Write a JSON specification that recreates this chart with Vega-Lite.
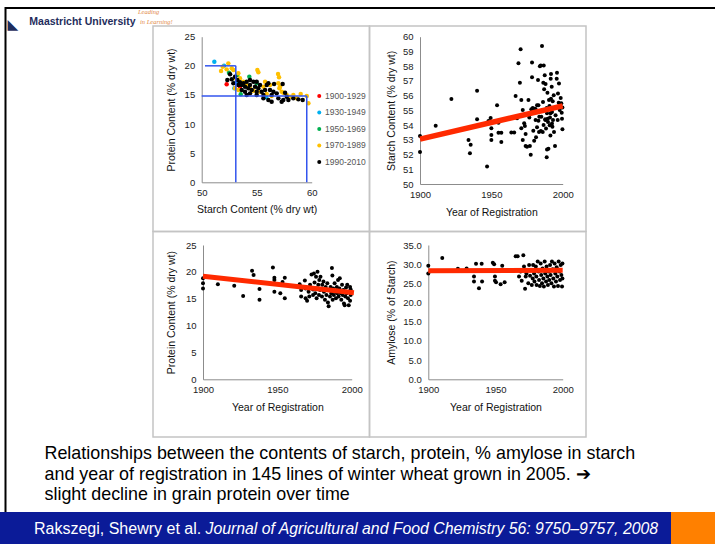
{
  "$schema": "https://vega.github.io/schema/vega-lite/v6.json",
  "width": 715,
  "height": 544,
  "autosize": {"type": "none"},
  "padding": 0,
  "background": "white",
  "config": {
    "view": {"stroke": null},
    "font": "Liberation Sans",
    "axis": {"grid": false, "ticks": false, "labelFont": "Liberation Sans", "labelFontSize": 9.5, "labelColor": "#222222", "labelFlush": false, "labelOverlap": false, "titleFont": "Liberation Sans", "titleFontSize": 10.5, "titleFontWeight": "normal", "titleColor": "#111111", "domainColor": "#8c8c8c", "domainWidth": 1},
    "axisX": {"labelPadding": 5},
    "axisY": {"labelPadding": 7}
  },
  "datasets": {
    "p1": [
      {"starch": 52.27, "protein": 16.82, "period": "1900-1929"},
      {"starch": 53.48, "protein": 16.42, "period": "1900-1929"},
      {"starch": 51.15, "protein": 20.71, "period": "1930-1949"},
      {"starch": 52.03, "protein": 20.02, "period": "1930-1949"},
      {"starch": 53.12, "protein": 17.11, "period": "1930-1949"},
      {"starch": 55.85, "protein": 14.59, "period": "1930-1949"},
      {"starch": 52.97, "protein": 16.13, "period": "1930-1949"},
      {"starch": 52.48, "protein": 18.82, "period": "1950-1969"},
      {"starch": 53.55, "protein": 15.1, "period": "1950-1969"},
      {"starch": 54.33, "protein": 18.14, "period": "1950-1969"},
      {"starch": 53.24, "protein": 18.42, "period": "1950-1969"},
      {"starch": 55.0, "protein": 16.99, "period": "1950-1969"},
      {"starch": 51.76, "protein": 19.11, "period": "1970-1989"},
      {"starch": 51.91, "protein": 19.85, "period": "1970-1989"},
      {"starch": 52.42, "protein": 20.42, "period": "1970-1989"},
      {"starch": 52.73, "protein": 19.57, "period": "1970-1989"},
      {"starch": 53.33, "protein": 18.71, "period": "1970-1989"},
      {"starch": 53.48, "protein": 17.85, "period": "1970-1989"},
      {"starch": 54.09, "protein": 16.7, "period": "1970-1989"},
      {"starch": 55.06, "protein": 19.28, "period": "1970-1989"},
      {"starch": 55.15, "protein": 18.88, "period": "1970-1989"},
      {"starch": 55.76, "protein": 17.28, "period": "1970-1989"},
      {"starch": 56.21, "protein": 16.7, "period": "1970-1989"},
      {"starch": 56.97, "protein": 16.99, "period": "1970-1989"},
      {"starch": 57.12, "protein": 16.42, "period": "1970-1989"},
      {"starch": 57.27, "protein": 15.56, "period": "1970-1989"},
      {"starch": 57.42, "protein": 15.39, "period": "1970-1989"},
      {"starch": 57.73, "protein": 14.99, "period": "1970-1989"},
      {"starch": 58.03, "protein": 14.7, "period": "1970-1989"},
      {"starch": 58.33, "protein": 14.99, "period": "1970-1989"},
      {"starch": 58.64, "protein": 14.42, "period": "1970-1989"},
      {"starch": 59.0, "protein": 15.16, "period": "1970-1989"},
      {"starch": 59.55, "protein": 14.82, "period": "1970-1989"},
      {"starch": 59.7, "protein": 13.56, "period": "1970-1989"},
      {"starch": 56.94, "protein": 18.59, "period": "1970-1989"},
      {"starch": 57.03, "protein": 18.02, "period": "1970-1989"},
      {"starch": 57.06, "protein": 16.13, "period": "1970-1989"},
      {"starch": 52.27, "protein": 19.39, "period": "1970-1989"},
      {"starch": 52.88, "protein": 19.28, "period": "1970-1989"},
      {"starch": 53.03, "protein": 17.85, "period": "1970-1989"},
      {"starch": 53.79, "protein": 17.28, "period": "1970-1989"},
      {"starch": 54.39, "protein": 16.13, "period": "1970-1989"},
      {"starch": 54.7, "protein": 15.73, "period": "1970-1989"},
      {"starch": 55.3, "protein": 15.56, "period": "1970-1989"},
      {"starch": 55.91, "protein": 15.16, "period": "1970-1989"},
      {"starch": 56.36, "protein": 14.82, "period": "1970-1989"},
      {"starch": 53.03, "protein": 16.13, "period": "1970-1989"},
      {"starch": 55.61, "protein": 16.42, "period": "1970-1989"},
      {"starch": 53.33, "protein": 15.85, "period": "1970-1989"},
      {"starch": 52.58, "protein": 18.54, "period": "1990-2010"},
      {"starch": 52.33, "protein": 17.56, "period": "1990-2010"},
      {"starch": 52.73, "protein": 17.68, "period": "1990-2010"},
      {"starch": 53.03, "protein": 18.14, "period": "1990-2010"},
      {"starch": 53.24, "protein": 17.56, "period": "1990-2010"},
      {"starch": 53.48, "protein": 17.16, "period": "1990-2010"},
      {"starch": 53.64, "protein": 16.7, "period": "1990-2010"},
      {"starch": 53.79, "protein": 16.99, "period": "1990-2010"},
      {"starch": 53.94, "protein": 16.42, "period": "1990-2010"},
      {"starch": 54.09, "protein": 17.28, "period": "1990-2010"},
      {"starch": 54.24, "protein": 16.13, "period": "1990-2010"},
      {"starch": 54.39, "protein": 16.7, "period": "1990-2010"},
      {"starch": 54.55, "protein": 15.85, "period": "1990-2010"},
      {"starch": 54.7, "protein": 17.28, "period": "1990-2010"},
      {"starch": 54.85, "protein": 16.42, "period": "1990-2010"},
      {"starch": 55.0, "protein": 15.56, "period": "1990-2010"},
      {"starch": 55.15, "protein": 16.13, "period": "1990-2010"},
      {"starch": 55.3, "protein": 16.7, "period": "1990-2010"},
      {"starch": 55.45, "protein": 15.56, "period": "1990-2010"},
      {"starch": 55.61, "protein": 14.99, "period": "1990-2010"},
      {"starch": 55.76, "protein": 15.85, "period": "1990-2010"},
      {"starch": 55.91, "protein": 16.7, "period": "1990-2010"},
      {"starch": 56.06, "protein": 16.99, "period": "1990-2010"},
      {"starch": 56.21, "protein": 15.85, "period": "1990-2010"},
      {"starch": 56.36, "protein": 14.99, "period": "1990-2010"},
      {"starch": 56.52, "protein": 15.56, "period": "1990-2010"},
      {"starch": 56.58, "protein": 16.88, "period": "1990-2010"},
      {"starch": 56.82, "protein": 15.27, "period": "1990-2010"},
      {"starch": 56.97, "protein": 14.42, "period": "1990-2010"},
      {"starch": 57.27, "protein": 13.84, "period": "1990-2010"},
      {"starch": 57.42, "protein": 14.13, "period": "1990-2010"},
      {"starch": 57.73, "protein": 14.7, "period": "1990-2010"},
      {"starch": 57.88, "protein": 14.13, "period": "1990-2010"},
      {"starch": 57.36, "protein": 16.88, "period": "1990-2010"},
      {"starch": 57.58, "protein": 15.39, "period": "1990-2010"},
      {"starch": 58.33, "protein": 14.42, "period": "1990-2010"},
      {"starch": 58.79, "protein": 14.24, "period": "1990-2010"},
      {"starch": 59.18, "protein": 14.13, "period": "1990-2010"},
      {"starch": 52.88, "protein": 16.99, "period": "1990-2010"},
      {"starch": 53.33, "protein": 16.7, "period": "1990-2010"},
      {"starch": 53.94, "protein": 15.56, "period": "1990-2010"},
      {"starch": 54.39, "protein": 15.27, "period": "1990-2010"},
      {"starch": 55.0, "protein": 14.99, "period": "1990-2010"},
      {"starch": 55.61, "protein": 14.42, "period": "1990-2010"},
      {"starch": 56.06, "protein": 14.13, "period": "1990-2010"},
      {"starch": 56.36, "protein": 13.84, "period": "1990-2010"},
      {"starch": 54.39, "protein": 17.56, "period": "1990-2010"},
      {"starch": 55.0, "protein": 17.28, "period": "1990-2010"},
      {"starch": 53.64, "protein": 15.85, "period": "1990-2010"},
      {"starch": 54.09, "protein": 14.99, "period": "1990-2010"}
    ],
    "p1lines": [
      {"starch": 50.3, "protein": 20, "starch2": 53.1, "protein2": 20},
      {"starch": 53.1, "protein": 20, "starch2": 53.1, "protein2": 0},
      {"starch": 50.0, "protein": 14.8, "starch2": 59.55, "protein2": 14.8},
      {"starch": 59.55, "protein": 14.8, "starch2": 59.55, "protein2": 0}
    ],
    "p2": [
      {"year": 1900, "starch": 53.26}, {"year": 1900, "starch": 52.17}, {"year": 1911, "starch": 53.96}, {"year": 1922, "starch": 55.77},
      {"year": 1934, "starch": 52.99}, {"year": 1935, "starch": 52.08}, {"year": 1935.5, "starch": 52.67}, {"year": 1940, "starch": 56.33},
      {"year": 1940, "starch": 54.39}, {"year": 1947, "starch": 51.18}, {"year": 1948, "starch": 54.28}, {"year": 1949.5, "starch": 54.48},
      {"year": 1950, "starch": 53.78}, {"year": 1950, "starch": 53.33}, {"year": 1950, "starch": 52.99}, {"year": 1954, "starch": 55.34},
      {"year": 1955, "starch": 54.16}, {"year": 1955, "starch": 53.48}, {"year": 1957, "starch": 53.48}, {"year": 1957, "starch": 52.85},
      {"year": 1964, "starch": 53.5}, {"year": 1966, "starch": 53.5}, {"year": 1967, "starch": 55.97}, {"year": 1968, "starch": 54.46},
      {"year": 1969, "starch": 58.19}, {"year": 1970, "starch": 56.88}, {"year": 1970.5, "starch": 59.14}, {"year": 1971, "starch": 55.7},
      {"year": 1971, "starch": 53.78}, {"year": 1972, "starch": 52.99}, {"year": 1972, "starch": 55.02}, {"year": 1973, "starch": 54.12},
      {"year": 1973.5, "starch": 53.94}, {"year": 1974, "starch": 53.39}, {"year": 1974, "starch": 52.58}, {"year": 1975, "starch": 52.53},
      {"year": 1976, "starch": 55.7}, {"year": 1976.6, "starch": 54.52}, {"year": 1977, "starch": 52.58}, {"year": 1977.6, "starch": 51.99},
      {"year": 1978, "starch": 55.07}, {"year": 1978.5, "starch": 58.24}, {"year": 1978.5, "starch": 57.24}, {"year": 1979, "starch": 55.16},
      {"year": 1979.4, "starch": 53.62}, {"year": 1980, "starch": 55.11}, {"year": 1980, "starch": 52.94}, {"year": 1981, "starch": 54.34},
      {"year": 1981.3, "starch": 53.17}, {"year": 1982, "starch": 55.34}, {"year": 1982, "starch": 53.85}, {"year": 1982.7, "starch": 57.06},
      {"year": 1983, "starch": 55.34}, {"year": 1983.4, "starch": 53.53}, {"year": 1983.6, "starch": 54.57}, {"year": 1984, "starch": 58.0},
      {"year": 1984.6, "starch": 58.05}, {"year": 1985, "starch": 54.57}, {"year": 1985.5, "starch": 59.37}, {"year": 1986, "starch": 53.53},
      {"year": 1986.2, "starch": 55.57}, {"year": 1986.4, "starch": 56.88}, {"year": 1986.7, "starch": 58.05}, {"year": 1987, "starch": 56.43},
      {"year": 1987.4, "starch": 57.38}, {"year": 1987.9, "starch": 54.34}, {"year": 1988, "starch": 56.79}, {"year": 1988.3, "starch": 53.76},
      {"year": 1988.8, "starch": 55.16}, {"year": 1988.8, "starch": 51.81}, {"year": 1989, "starch": 52.35}, {"year": 1989.3, "starch": 56.2},
      {"year": 1989.5, "starch": 54.43}, {"year": 1989.7, "starch": 54.21}, {"year": 1990, "starch": 52.4}, {"year": 1990.4, "starch": 55.7},
      {"year": 1990.7, "starch": 55.29}, {"year": 1990.9, "starch": 53.98}, {"year": 1991.1, "starch": 54.52}, {"year": 1991.4, "starch": 53.3},
      {"year": 1991.6, "starch": 57.15}, {"year": 1991.8, "starch": 55.79}, {"year": 1991.8, "starch": 57.47}, {"year": 1992.3, "starch": 56.61},
      {"year": 1992.5, "starch": 54.89}, {"year": 1992.8, "starch": 53.89}, {"year": 1993, "starch": 55.61}, {"year": 1993.2, "starch": 54.34},
      {"year": 1993.7, "starch": 56.02}, {"year": 1993.9, "starch": 53.53}, {"year": 1994.6, "starch": 52.58}, {"year": 1995, "starch": 54.66},
      {"year": 1995.8, "starch": 57.15}, {"year": 1996, "starch": 57.56}, {"year": 1996.5, "starch": 54.34}, {"year": 1996.7, "starch": 56.15},
      {"year": 1997.2, "starch": 55.52}, {"year": 1997.4, "starch": 56.83}, {"year": 1997.9, "starch": 55.02}, {"year": 1998.6, "starch": 55.84},
      {"year": 1999, "starch": 55.48}, {"year": 1999.3, "starch": 54.84}, {"year": 1999.5, "starch": 54.43}, {"year": 1999.8, "starch": 53.71},
      {"year": 1999.8, "starch": 55.2}, {"year": 1979.2, "starch": 55.1}, {"year": 1981, "starch": 55.1}, {"year": 1983, "starch": 54.3},
      {"year": 1984.7, "starch": 53.6}, {"year": 1986.6, "starch": 54.0}, {"year": 1987.7, "starch": 54.4}, {"year": 1989, "starch": 54.8},
      {"year": 1991.5, "starch": 54.8}, {"year": 1992.5, "starch": 54.1}
    ],
    "p2line": [{"year": 1900, "starch": 53.05}, {"year": 2000, "starch": 55.3}],
    "p3": [
      {"year": 1900, "protein": 18.8}, {"year": 1900, "protein": 17.9}, {"year": 1900, "protein": 16.9}, {"year": 1910, "protein": 17.7},
      {"year": 1921, "protein": 17.4}, {"year": 1927, "protein": 15.5}, {"year": 1933, "protein": 20.2}, {"year": 1934, "protein": 19.4},
      {"year": 1938, "protein": 16.8}, {"year": 1938, "protein": 14.8}, {"year": 1947, "protein": 20.8}, {"year": 1948, "protein": 16.3},
      {"year": 1948, "protein": 18.9}, {"year": 1948, "protein": 18.5}, {"year": 1952, "protein": 16.0}, {"year": 1953.5, "protein": 18.1},
      {"year": 1955, "protein": 18.9}, {"year": 1955, "protein": 15.1}, {"year": 1965, "protein": 17.7}, {"year": 1966, "protein": 16.6},
      {"year": 1966, "protein": 15.4}, {"year": 1968.5, "protein": 18.4}, {"year": 1969, "protein": 16.9}, {"year": 1969, "protein": 15.1},
      {"year": 1970, "protein": 14.6}, {"year": 1971, "protein": 16.3}, {"year": 1971.5, "protein": 15.4}, {"year": 1972, "protein": 17.6},
      {"year": 1973, "protein": 19.5}, {"year": 1974, "protein": 16.7}, {"year": 1974, "protein": 15.7}, {"year": 1974.6, "protein": 19.7},
      {"year": 1975, "protein": 18.0}, {"year": 1975.5, "protein": 16.0}, {"year": 1976, "protein": 19.1}, {"year": 1976.4, "protein": 16.9},
      {"year": 1976.4, "protein": 15.1}, {"year": 1977, "protein": 20.0}, {"year": 1977.5, "protein": 17.6}, {"year": 1978, "protein": 15.7},
      {"year": 1978.2, "protein": 18.5}, {"year": 1978.7, "protein": 16.6}, {"year": 1979, "protein": 19.1}, {"year": 1980, "protein": 15.4},
      {"year": 1980.2, "protein": 17.6}, {"year": 1981, "protein": 18.2}, {"year": 1981.3, "protein": 16.3}, {"year": 1982, "protein": 14.8},
      {"year": 1982.5, "protein": 17.2}, {"year": 1983, "protein": 15.7}, {"year": 1983.6, "protein": 17.9}, {"year": 1984, "protein": 14.3},
      {"year": 1984.5, "protein": 13.6}, {"year": 1985, "protein": 16.6}, {"year": 1985.4, "protein": 15.4}, {"year": 1985.8, "protein": 17.2},
      {"year": 1986.3, "protein": 16.0}, {"year": 1986.7, "protein": 20.7}, {"year": 1987, "protein": 19.3}, {"year": 1987.2, "protein": 14.8},
      {"year": 1987.6, "protein": 16.9}, {"year": 1988, "protein": 15.7}, {"year": 1988.5, "protein": 17.9}, {"year": 1989, "protein": 16.3},
      {"year": 1989.4, "protein": 15.1}, {"year": 1990, "protein": 17.2}, {"year": 1990.3, "protein": 16.0}, {"year": 1990.8, "protein": 18.5},
      {"year": 1991.2, "protein": 15.4}, {"year": 1991.7, "protein": 16.9}, {"year": 1992, "protein": 18.8}, {"year": 1992.6, "protein": 16.0},
      {"year": 1993, "protein": 14.8}, {"year": 1993.5, "protein": 17.6}, {"year": 1994, "protein": 15.7}, {"year": 1994.4, "protein": 16.6},
      {"year": 1994.8, "protein": 14.1}, {"year": 1995.3, "protein": 13.8}, {"year": 1995.7, "protein": 15.4}, {"year": 1996.2, "protein": 17.1},
      {"year": 1996.6, "protein": 16.0}, {"year": 1997, "protein": 17.6}, {"year": 1997.5, "protein": 15.1}, {"year": 1998, "protein": 13.8},
      {"year": 1998.4, "protein": 16.3}, {"year": 1998.9, "protein": 17.2}, {"year": 1998.9, "protein": 14.6}, {"year": 1999.3, "protein": 15.7},
      {"year": 1999.3, "protein": 16.7}
    ],
    "p3line": [{"year": 1900, "protein": 19.2}, {"year": 2001.5, "protein": 16.1}],
    "p4": [
      {"year": 1900, "amylose": 29.6}, {"year": 1900, "amylose": 27.6}, {"year": 1910.4, "amylose": 31.6}, {"year": 1922, "amylose": 28.8},
      {"year": 1928.5, "amylose": 28.9}, {"year": 1934, "amylose": 26.8}, {"year": 1934, "amylose": 25.5}, {"year": 1935.5, "amylose": 30.1},
      {"year": 1937.7, "amylose": 23.7}, {"year": 1939.7, "amylose": 30.1}, {"year": 1940, "amylose": 25.5}, {"year": 1948, "amylose": 30.4},
      {"year": 1949, "amylose": 30.0}, {"year": 1949.6, "amylose": 26.8}, {"year": 1949.6, "amylose": 25.7}, {"year": 1950.4, "amylose": 25.3},
      {"year": 1953.8, "amylose": 24.8}, {"year": 1955, "amylose": 29.6}, {"year": 1956.8, "amylose": 25.3}, {"year": 1965, "amylose": 32.1},
      {"year": 1966.5, "amylose": 32.1}, {"year": 1967.5, "amylose": 26.8}, {"year": 1968.7, "amylose": 28.1}, {"year": 1969.5, "amylose": 25.7},
      {"year": 1970.7, "amylose": 32.3}, {"year": 1971.2, "amylose": 29.4}, {"year": 1972, "amylose": 23.6}, {"year": 1972.5, "amylose": 26.8},
      {"year": 1973, "amylose": 27.6}, {"year": 1974.4, "amylose": 25.0}, {"year": 1975, "amylose": 29.8}, {"year": 1975.7, "amylose": 27.0},
      {"year": 1976.4, "amylose": 28.5}, {"year": 1977, "amylose": 24.6}, {"year": 1977.7, "amylose": 26.3}, {"year": 1978, "amylose": 29.8},
      {"year": 1978.7, "amylose": 27.6}, {"year": 1979, "amylose": 25.5}, {"year": 1980, "amylose": 29.4}, {"year": 1980.4, "amylose": 26.8},
      {"year": 1980.6, "amylose": 24.6}, {"year": 1981.4, "amylose": 30.7}, {"year": 1982, "amylose": 28.1}, {"year": 1982.4, "amylose": 25.9},
      {"year": 1983, "amylose": 24.3}, {"year": 1983.6, "amylose": 30.2}, {"year": 1984, "amylose": 27.2}, {"year": 1984.6, "amylose": 25.0},
      {"year": 1985, "amylose": 28.9}, {"year": 1985.6, "amylose": 26.3}, {"year": 1986, "amylose": 24.2}, {"year": 1986.6, "amylose": 30.7},
      {"year": 1987, "amylose": 27.6}, {"year": 1987.6, "amylose": 25.5}, {"year": 1988, "amylose": 29.4}, {"year": 1988.6, "amylose": 26.8},
      {"year": 1989, "amylose": 24.6}, {"year": 1989.6, "amylose": 28.1}, {"year": 1990, "amylose": 25.9}, {"year": 1990.6, "amylose": 29.8},
      {"year": 1991, "amylose": 27.2}, {"year": 1991.6, "amylose": 25.0}, {"year": 1992, "amylose": 30.7}, {"year": 1992.6, "amylose": 28.7},
      {"year": 1993, "amylose": 26.3}, {"year": 1993.5, "amylose": 24.2}, {"year": 1994, "amylose": 30.2}, {"year": 1994.5, "amylose": 27.6},
      {"year": 1995, "amylose": 25.5}, {"year": 1995.5, "amylose": 29.2}, {"year": 1996, "amylose": 26.8}, {"year": 1996.5, "amylose": 24.3},
      {"year": 1997, "amylose": 30.7}, {"year": 1997.5, "amylose": 28.1}, {"year": 1998, "amylose": 25.9}, {"year": 1998.5, "amylose": 29.8},
      {"year": 1999, "amylose": 27.2}, {"year": 1999.5, "amylose": 24.2}, {"year": 1999.8, "amylose": 30.2}, {"year": 1999.8, "amylose": 26.3}
    ],
    "p4line": [{"year": 1900, "amylose": 28.3}, {"year": 2000, "amylose": 28.4}]
  },
  "layer": [
    {
      "data": {"values": [{"k": "slide"}]},
      "mark": {"type": "rect", "filled": false, "stroke": "#000000", "strokeWidth": 2},
      "encoding": {
        "x": {"field": "k", "type": "nominal", "scale": {"range": [5.5, 760], "paddingInner": 0, "paddingOuter": 0}, "axis": null},
        "y": {"field": "k", "type": "nominal", "scale": {"range": [8, 540], "paddingInner": 0, "paddingOuter": 0}, "axis": null}
      }
    },
    {
      "data": {"values": [{"c": "L", "r": "T"}, {"c": "R", "r": "T"}, {"c": "L", "r": "B"}, {"c": "R", "r": "B"}]},
      "mark": {"type": "rect", "filled": false, "stroke": "#c4c4c4", "strokeWidth": 1.5},
      "encoding": {
        "x": {"field": "c", "type": "nominal", "scale": {"domain": ["L", "R"], "range": [153, 586], "paddingInner": 0, "paddingOuter": 0}, "axis": null},
        "y": {"field": "r", "type": "nominal", "scale": {"domain": ["T", "B"], "range": [26, 437], "paddingInner": 0, "paddingOuter": 0}, "axis": null}
      }
    },
    {
      "encoding": {
        "x": {"field": "starch", "type": "quantitative", "scale": {"domain": [50, 60], "range": [201.7, 311.7], "nice": false, "zero": false},
              "axis": {"orient": "bottom", "offset": -361.7, "values": [50, 55, 60], "title": "Starch Content (% dry wt)", "titlePadding": 8}},
        "y": {"field": "protein", "type": "quantitative", "scale": {"domain": [0, 25], "range": [182.3, 36.7], "nice": false, "zero": false},
              "axis": {"orient": "left", "offset": -201.7, "values": [0, 5, 10, 15, 20, 25], "title": "Protein Content (% dry wt)", "titlePadding": 7.5}}
      },
      "layer": [
        {
          "data": {"name": "p1"},
          "mark": {"type": "circle", "size": 20, "opacity": 1},
          "encoding": {
            "color": {"field": "period", "type": "nominal",
                      "scale": {"domain": ["1900-1929", "1930-1949", "1950-1969", "1970-1989", "1990-2010"], "range": ["#ff0000", "#00b0f0", "#00b050", "#ffc000", "#000000"]},
                      "legend": {"orient": "none", "legendX": 315, "legendY": 91.7, "title": null, "symbolType": "circle", "symbolSize": 16, "symbolStrokeWidth": 0, "labelFontSize": 8.5, "labelColor": "#555555", "labelFont": "Liberation Sans", "rowPadding": 7.5, "labelOffset": 1.5, "padding": 0}}
          }
        },
        {
          "data": {"name": "p1lines"},
          "mark": {"type": "rule", "color": "#3355ee", "strokeWidth": 1.5},
          "encoding": {"x2": {"field": "starch2"}, "y2": {"field": "protein2"}}
        }
      ]
    },
    {
      "encoding": {
        "x": {"field": "year", "type": "quantitative", "scale": {"domain": [1900, 2000], "range": [420, 562.7], "nice": false, "zero": false},
              "axis": {"orient": "bottom", "offset": -360, "values": [1900, 1950, 2000], "format": "d", "title": "Year of Registration", "titlePadding": 9}},
        "y": {"field": "starch", "type": "quantitative", "scale": {"domain": [50, 60], "range": [184, 36.7], "nice": false, "zero": false},
              "axis": {"orient": "left", "offset": -420, "values": [50, 51, 52, 53, 54, 55, 56, 57, 58, 59, 60], "title": "Starch Content (% dry wt)", "titlePadding": 6}}
      },
      "layer": [
        {"data": {"name": "p2"}, "mark": {"type": "circle", "size": 16, "color": "#000000", "opacity": 1}},
        {"data": {"name": "p2line"}, "mark": {"type": "line", "color": "#ff2a00", "strokeWidth": 5.5, "strokeCap": "butt"}, "encoding": {}}
      ]
    },
    {
      "encoding": {
        "x": {"field": "year", "type": "quantitative", "scale": {"domain": [1900, 2000], "range": [203, 351.7], "nice": false, "zero": false},
              "axis": {"orient": "bottom", "offset": -164.7, "values": [1900, 1950, 2000], "format": "d", "title": "Year of Registration", "titlePadding": 8.5}},
        "y": {"field": "protein", "type": "quantitative", "scale": {"domain": [0, 25], "range": [379.3, 245], "nice": false, "zero": false},
              "axis": {"orient": "left", "offset": -203, "values": [0, 5, 10, 15, 20, 25], "title": "Protein Content (% dry wt)", "titlePadding": 9}}
      },
      "layer": [
        {"data": {"name": "p3"}, "mark": {"type": "circle", "size": 16, "color": "#000000", "opacity": 1}},
        {"data": {"name": "p3line"}, "mark": {"type": "line", "color": "#ff2a00", "strokeWidth": 5, "strokeCap": "butt"}, "encoding": {}}
      ]
    },
    {
      "encoding": {
        "x": {"field": "year", "type": "quantitative", "scale": {"domain": [1900, 2000], "range": [428.3, 562.7], "nice": false, "zero": false},
              "axis": {"orient": "bottom", "offset": -164.7, "values": [1900, 1950, 2000], "format": "d", "title": "Year of Registration", "titlePadding": 8.5}},
        "y": {"field": "amylose", "type": "quantitative", "scale": {"domain": [0, 35], "range": [379.3, 245], "nice": false, "zero": false},
              "axis": {"orient": "left", "offset": -428.3, "values": [0, 5, 10, 15, 20, 25, 30, 35], "format": ".1f", "title": "Amylose (% of Starch)", "titlePadding": 6}}
      },
      "layer": [
        {"data": {"name": "p4"}, "mark": {"type": "circle", "size": 16, "color": "#000000", "opacity": 1}},
        {"data": {"name": "p4line"}, "mark": {"type": "line", "color": "#ff2a00", "strokeWidth": 5, "strokeCap": "butt"}, "encoding": {}}
      ]
    },
    {
      "data": {"values": [{"k": "footer"}]},
      "mark": {"type": "rect", "fill": "#0b1b98"},
      "encoding": {
        "x": {"field": "k", "type": "nominal", "scale": {"range": [0, 715], "paddingInner": 0, "paddingOuter": 0}, "axis": null},
        "y": {"field": "k", "type": "nominal", "scale": {"range": [512, 544], "paddingInner": 0, "paddingOuter": 0}, "axis": null}
      }
    },
    {
      "data": {"values": [{"k": "accent"}]},
      "mark": {"type": "rect", "fill": "#ff8000"},
      "encoding": {
        "x": {"field": "k", "type": "nominal", "scale": {"range": [671, 715], "paddingInner": 0, "paddingOuter": 0}, "axis": null},
        "y": {"field": "k", "type": "nominal", "scale": {"range": [512, 544], "paddingInner": 0, "paddingOuter": 0}, "axis": null}
      }
    },
    {
      "data": {"values": [{"t": "Maastricht University"}]},
      "mark": {"type": "text", "font": "Liberation Sans", "fontSize": 10.5, "fontWeight": "bold", "fill": "#1f2d5c", "align": "left", "baseline": "alphabetic", "dx": -328.2, "dy": -247},
      "encoding": {"text": {"field": "t"}}
    },
    {
      "data": {"values": [{"t": "◣"}]},
      "mark": {"type": "text", "font": "DejaVu Sans", "fontSize": 14, "fill": "#1f2d5c", "align": "left", "baseline": "alphabetic", "dx": -350, "dy": -243},
      "encoding": {"text": {"field": "t"}}
    },
    {
      "data": {"values": [{"t": "Leading"}]},
      "mark": {"type": "text", "font": "Liberation Serif", "fontSize": 6.5, "fontStyle": "italic", "fill": "#e38a4a", "align": "left", "baseline": "alphabetic", "dx": -219.5, "dy": -258},
      "encoding": {"text": {"field": "t"}}
    },
    {
      "data": {"values": [{"t": "in Learning!"}]},
      "mark": {"type": "text", "font": "Liberation Serif", "fontSize": 6.5, "fontStyle": "italic", "fill": "#e38a4a", "align": "left", "baseline": "alphabetic", "dx": -217.5, "dy": -248.5},
      "encoding": {"text": {"field": "t"}}
    },
    {
      "data": {"values": [{}]},
      "mark": {"type": "text", "font": "Liberation Sans", "fontSize": 17.9, "fill": "#000000", "align": "left", "baseline": "alphabetic", "lineHeight": 20.5, "dx": -313, "dy": 187,
               "text": ["Relationships between the contents of starch, protein, % amylose in starch", "and year of registration in 145 lines of winter wheat grown in 2005. ➔", "slight decline in grain protein over time"]}
    },
    {
      "data": {"values": [{"t": "Rakszegi, Shewry et al."}]},
      "mark": {"type": "text", "font": "Liberation Sans", "fontSize": 16, "fill": "#ffffff", "align": "left", "baseline": "alphabetic", "dx": -323.5, "dy": 261.5},
      "encoding": {"text": {"field": "t"}}
    },
    {
      "data": {"values": [{"t": "Journal of Agricultural and Food Chemistry 56: 9750–9757, 2008"}]},
      "mark": {"type": "text", "font": "Liberation Sans", "fontSize": 15.8, "fontStyle": "italic", "fill": "#ffffff", "align": "left", "baseline": "alphabetic", "dx": -152, "dy": 261.5},
      "encoding": {"text": {"field": "t"}}
    }
  ],
  "resolve": {"scale": {"x": "independent", "y": "independent", "color": "independent"}, "axis": {"x": "independent", "y": "independent"}}
}
